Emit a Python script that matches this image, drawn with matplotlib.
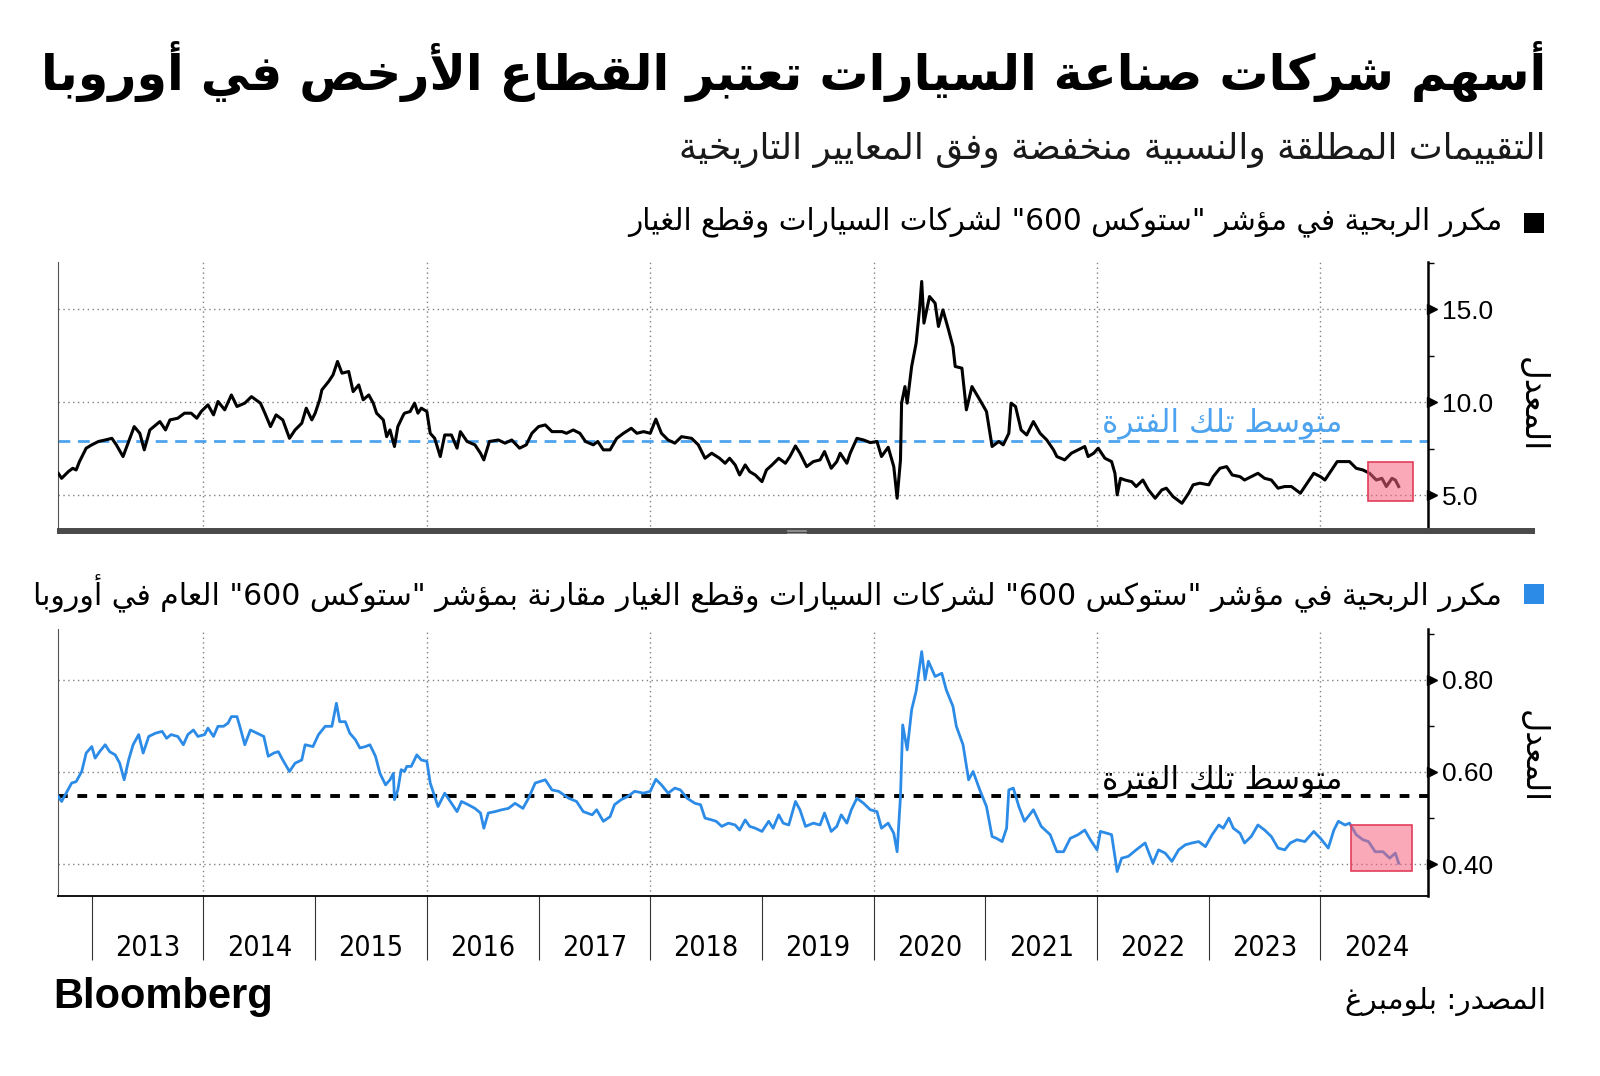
import re
import matplotlib
matplotlib.use('Agg')
import matplotlib.pyplot as plt
from matplotlib import font_manager as fm, transforms
from matplotlib.lines import Line2D
from matplotlib.patches import Rectangle

W, H = 1600, 1076

title = 'أسهم شركات صناعة السيارات تعتبر القطاع الأرخص في أوروبا'
subtitle = 'التقييمات المطلقة والنسبية منخفضة وفق المعايير التاريخية'
legend_top = 'مكرر الربحية في مؤشر "ستوكس 600" لشركات السيارات وقطع الغيار'
legend_bottom = ('مكرر الربحية في مؤشر "ستوكس 600" لشركات السيارات وقطع الغيار '
                 'مقارنة بمؤشر "ستوكس 600" العام في أوروبا')
mean_label = 'متوسط تلك الفترة'
axis_label = 'المعدل'
source = 'المصدر: بلومبرغ'
years = list(range(2013, 2025))

# price/earnings of Stoxx 600 autos (decimal year, value)
top_dates = [2012.70, 2012.73, 2012.79, 2012.83, 2012.86, 2012.89, 2012.95, 2013.00, 2013.06, 2013.12,
             2013.18, 2013.22, 2013.28, 2013.33, 2013.38, 2013.43, 2013.47, 2013.52, 2013.61, 2013.66,
             2013.70, 2013.77, 2013.83, 2013.89, 2013.94, 2013.98, 2014.04, 2014.09, 2014.13, 2014.19,
             2014.25, 2014.30, 2014.37, 2014.43, 2014.51, 2014.55, 2014.60, 2014.65, 2014.71, 2014.77,
             2014.82, 2014.88, 2014.92, 2014.97, 2015.00, 2015.04, 2015.06, 2015.12, 2015.16, 2015.20,
             2015.24, 2015.30, 2015.34, 2015.39, 2015.43, 2015.48, 2015.52, 2015.55, 2015.61, 2015.64,
             2015.67, 2015.71, 2015.74, 2015.79, 2015.80, 2015.85, 2015.89, 2015.92, 2015.95, 2016.00,
             2016.03, 2016.07, 2016.12, 2016.16, 2016.22, 2016.27, 2016.30, 2016.36, 2016.43, 2016.48,
             2016.51, 2016.56, 2016.64, 2016.70, 2016.76, 2016.83, 2016.89, 2016.94, 2017.00, 2017.06,
             2017.12, 2017.21, 2017.25, 2017.31, 2017.37, 2017.42, 2017.49, 2017.53, 2017.58, 2017.64,
             2017.70, 2017.76, 2017.83, 2017.88, 2017.94, 2018.00, 2018.05, 2018.10, 2018.16, 2018.22,
             2018.28, 2018.37, 2018.43, 2018.49, 2018.55, 2018.62, 2018.67, 2018.71, 2018.76, 2018.80,
             2018.85, 2018.89, 2018.94, 2019.00, 2019.04, 2019.09, 2019.15, 2019.21, 2019.25, 2019.30,
             2019.34, 2019.40, 2019.46, 2019.52, 2019.56, 2019.62, 2019.67, 2019.70, 2019.76, 2019.79,
             2019.85, 2019.91, 2019.97, 2020.03, 2020.07, 2020.13, 2020.18, 2020.21, 2020.24, 2020.25,
             2020.28, 2020.30, 2020.34, 2020.38, 2020.41, 2020.43, 2020.45, 2020.50, 2020.55, 2020.58,
             2020.62, 2020.67, 2020.71, 2020.73, 2020.79, 2020.83, 2020.88, 2020.95, 2021.01, 2021.06,
             2021.12, 2021.16, 2021.21, 2021.23, 2021.27, 2021.32, 2021.37, 2021.43, 2021.49, 2021.55,
             2021.61, 2021.64, 2021.71, 2021.77, 2021.89, 2021.92, 2021.97, 2022.01, 2022.07, 2022.13,
             2022.16, 2022.18, 2022.21, 2022.25, 2022.31, 2022.35, 2022.41, 2022.46, 2022.52, 2022.58,
             2022.62, 2022.68, 2022.76, 2022.82, 2022.86, 2022.92, 2023.00, 2023.04, 2023.10, 2023.16,
             2023.21, 2023.28, 2023.32, 2023.38, 2023.44, 2023.50, 2023.56, 2023.62, 2023.68, 2023.74,
             2023.82, 2023.88, 2023.94, 2024.00, 2024.04, 2024.09, 2024.15, 2024.22, 2024.26, 2024.32,
             2024.38, 2024.44, 2024.50, 2024.55, 2024.59, 2024.64, 2024.67, 2024.70]
top_pe = [6.18, 5.91, 6.27, 6.45, 6.36, 6.81, 7.53, 7.71, 7.89, 7.97,
          8.06, 7.71, 7.08, 7.89, 8.69, 8.33, 7.44, 8.51, 8.96, 8.51,
          9.05, 9.14, 9.41, 9.41, 9.14, 9.50, 9.86, 9.32, 10.04, 9.59,
          10.39, 9.77, 9.95, 10.30, 9.95, 9.41, 8.69, 9.32, 9.05, 8.06,
          8.51, 8.87, 9.68, 9.05, 9.41, 10.13, 10.66, 11.11, 11.47, 12.19,
          11.56, 11.65, 10.57, 10.93, 10.13, 10.39, 9.95, 9.41, 9.05, 8.15,
          8.51, 7.62, 8.69, 9.32, 9.41, 9.50, 9.95, 9.41, 9.68, 9.50,
          8.33, 8.06, 7.08, 8.24, 8.24, 7.53, 8.42, 7.89, 7.71, 7.26,
          6.90, 7.89, 7.97, 7.80, 7.97, 7.53, 7.71, 8.33, 8.69, 8.78,
          8.42, 8.42, 8.33, 8.51, 8.33, 7.89, 7.71, 7.89, 7.44, 7.44,
          8.06, 8.33, 8.60, 8.33, 8.42, 8.33, 9.09, 8.33, 7.97, 7.80,
          8.15, 8.06, 7.71, 6.99, 7.26, 6.99, 6.72, 6.99, 6.63, 6.09,
          6.63, 6.27, 6.09, 5.73, 6.36, 6.63, 6.99, 6.72, 7.08, 7.65,
          7.26, 6.54, 6.81, 6.90, 7.35, 6.45, 6.81, 7.26, 6.72, 7.26,
          8.06, 7.97, 7.83, 7.89, 7.08, 7.58, 6.54, 4.84, 6.90, 9.95,
          10.84, 9.95, 11.92, 13.17, 14.96, 16.49, 14.25, 15.68, 15.32, 14.07,
          14.96, 13.89, 12.99, 11.92, 11.83, 9.59, 10.84, 10.13, 9.50, 7.62,
          7.89, 7.71, 8.33, 9.95, 9.77, 8.51, 8.24, 8.96, 8.33, 7.97,
          7.44, 7.08, 6.90, 7.26, 7.62, 7.08, 7.26, 7.53, 6.99, 6.81,
          6.18, 5.02, 5.91, 5.82, 5.73, 5.47, 5.82, 5.29, 4.84, 5.29,
          5.38, 4.93, 4.57, 5.11, 5.56, 5.65, 5.56, 6.00, 6.45, 6.54,
          6.09, 6.00, 5.82, 6.00, 6.18, 5.91, 5.82, 5.38, 5.47, 5.47,
          5.11, 5.65, 6.18, 6.00, 5.82, 6.27, 6.81, 6.81, 6.81, 6.45,
          6.36, 6.18, 5.82, 5.91, 5.47, 5.91, 5.82, 5.47]

# autos P/E relative to the broad Stoxx 600
rel_dates = [2012.70, 2012.73, 2012.77, 2012.82, 2012.86, 2012.91, 2012.95, 2013.00, 2013.03, 2013.07,
             2013.12, 2013.16, 2013.21, 2013.25, 2013.29, 2013.33, 2013.37, 2013.42, 2013.46, 2013.51,
             2013.57, 2013.63, 2013.67, 2013.71, 2013.77, 2013.82, 2013.86, 2013.91, 2013.95, 2014.01,
             2014.04, 2014.09, 2014.13, 2014.18, 2014.22, 2014.25, 2014.30, 2014.33, 2014.37, 2014.42,
             2014.48, 2014.54, 2014.58, 2014.63, 2014.67, 2014.71, 2014.77, 2014.82, 2014.88, 2014.91,
             2014.98, 2015.03, 2015.09, 2015.15, 2015.19, 2015.22, 2015.27, 2015.31, 2015.36, 2015.40,
             2015.45, 2015.49, 2015.54, 2015.58, 2015.63, 2015.67, 2015.70, 2015.71, 2015.74, 2015.77,
             2015.80, 2015.82, 2015.86, 2015.91, 2015.95, 2016.00, 2016.03, 2016.07, 2016.10, 2016.16,
             2016.21, 2016.27, 2016.31, 2016.37, 2016.43, 2016.48, 2016.51, 2016.55, 2016.61, 2016.67,
             2016.73, 2016.79, 2016.86, 2016.91, 2016.97, 2017.06, 2017.12, 2017.18, 2017.27, 2017.34,
             2017.40, 2017.48, 2017.52, 2017.58, 2017.64, 2017.68, 2017.74, 2017.80, 2017.86, 2017.94,
             2018.00, 2018.05, 2018.10, 2018.16, 2018.22, 2018.27, 2018.33, 2018.40, 2018.45, 2018.49,
             2018.55, 2018.59, 2018.64, 2018.70, 2018.76, 2018.80, 2018.85, 2018.89, 2018.94, 2019.00,
             2019.06, 2019.10, 2019.15, 2019.19, 2019.24, 2019.30, 2019.34, 2019.39, 2019.46, 2019.52,
             2019.56, 2019.62, 2019.67, 2019.71, 2019.76, 2019.80, 2019.85, 2019.91, 2019.97, 2020.03,
             2020.07, 2020.13, 2020.18, 2020.21, 2020.24, 2020.26, 2020.30, 2020.34, 2020.38, 2020.43,
             2020.46, 2020.49, 2020.55, 2020.61, 2020.65, 2020.71, 2020.74, 2020.80, 2020.85, 2020.89,
             2020.95, 2021.01, 2021.06, 2021.10, 2021.15, 2021.19, 2021.21, 2021.25, 2021.30, 2021.35,
             2021.43, 2021.50, 2021.58, 2021.64, 2021.70, 2021.76, 2021.83, 2021.89, 2021.94, 2022.00,
             2022.03, 2022.09, 2022.13, 2022.18, 2022.22, 2022.28, 2022.35, 2022.43, 2022.50, 2022.55,
             2022.61, 2022.67, 2022.73, 2022.79, 2022.85, 2022.91, 2022.97, 2023.03, 2023.09, 2023.13,
             2023.18, 2023.22, 2023.28, 2023.32, 2023.38, 2023.44, 2023.50, 2023.56, 2023.62, 2023.68,
             2023.73, 2023.79, 2023.86, 2023.94, 2024.00, 2024.07, 2024.12, 2024.16, 2024.22, 2024.26,
             2024.32, 2024.38, 2024.43, 2024.49, 2024.56, 2024.62, 2024.67, 2024.70]
rel_pe = [0.547, 0.536, 0.554, 0.576, 0.579, 0.601, 0.641, 0.655, 0.630, 0.644,
          0.659, 0.644, 0.637, 0.619, 0.583, 0.626, 0.659, 0.681, 0.641, 0.677,
          0.684, 0.688, 0.673, 0.681, 0.677, 0.659, 0.681, 0.691, 0.677, 0.681,
          0.695, 0.677, 0.699, 0.699, 0.706, 0.720, 0.720, 0.695, 0.659, 0.691,
          0.684, 0.677, 0.634, 0.641, 0.644, 0.626, 0.601, 0.619, 0.626, 0.659,
          0.655, 0.681, 0.699, 0.699, 0.749, 0.709, 0.709, 0.684, 0.670, 0.652,
          0.655, 0.659, 0.634, 0.597, 0.572, 0.583, 0.597, 0.540, 0.561, 0.605,
          0.601, 0.612, 0.612, 0.637, 0.626, 0.623, 0.576, 0.547, 0.525, 0.554,
          0.536, 0.514, 0.536, 0.529, 0.521, 0.511, 0.478, 0.511, 0.514, 0.518,
          0.521, 0.532, 0.521, 0.543, 0.576, 0.583, 0.561, 0.558, 0.543, 0.536,
          0.514, 0.507, 0.518, 0.493, 0.503, 0.529, 0.540, 0.547, 0.558, 0.554,
          0.558, 0.584, 0.572, 0.554, 0.565, 0.561, 0.543, 0.532, 0.529, 0.500,
          0.496, 0.493, 0.482, 0.489, 0.485, 0.474, 0.496, 0.482, 0.478, 0.471,
          0.493, 0.478, 0.507, 0.489, 0.485, 0.536, 0.518, 0.482, 0.489, 0.485,
          0.511, 0.471, 0.482, 0.507, 0.489, 0.518, 0.543, 0.532, 0.518, 0.514,
          0.478, 0.489, 0.467, 0.427, 0.547, 0.702, 0.648, 0.735, 0.775, 0.861,
          0.800, 0.840, 0.807, 0.814, 0.778, 0.742, 0.699, 0.659, 0.583, 0.601,
          0.561, 0.525, 0.460, 0.456, 0.449, 0.478, 0.561, 0.565, 0.525, 0.493,
          0.518, 0.482, 0.464, 0.427, 0.427, 0.456, 0.464, 0.474, 0.453, 0.431,
          0.471, 0.467, 0.464, 0.384, 0.413, 0.417, 0.431, 0.446, 0.402, 0.431,
          0.424, 0.406, 0.431, 0.442, 0.446, 0.449, 0.438, 0.464, 0.485, 0.478,
          0.500, 0.478, 0.467, 0.446, 0.460, 0.485, 0.474, 0.460, 0.435, 0.431,
          0.446, 0.453, 0.449, 0.471, 0.456, 0.435, 0.474, 0.493, 0.485, 0.489,
          0.464, 0.453, 0.449, 0.427, 0.427, 0.413, 0.424, 0.402]

top_mean = 7.92
rel_mean = 0.547
top_box = (2024.43, 2024.83, 4.71, 6.81)
rel_box = (2024.27, 2024.82, 0.386, 0.485)

# --- minimal Arabic shaping (matplotlib has no complex text layout) ---
_BASE = {'آ': 0xFE81, 'أ': 0xFE83, 'ؤ': 0xFE85, 'إ': 0xFE87, 'ئ': 0xFE89, 'ا': 0xFE8D,
         'ب': 0xFE8F, 'ة': 0xFE93, 'ت': 0xFE95, 'ث': 0xFE99, 'ج': 0xFE9D, 'ح': 0xFEA1,
         'خ': 0xFEA5, 'د': 0xFEA9, 'ذ': 0xFEAB, 'ر': 0xFEAD, 'ز': 0xFEAF, 'س': 0xFEB1,
         'ش': 0xFEB5, 'ص': 0xFEB9, 'ض': 0xFEBD, 'ط': 0xFEC1, 'ظ': 0xFEC5, 'ع': 0xFEC9,
         'غ': 0xFECD, 'ف': 0xFED1, 'ق': 0xFED5, 'ك': 0xFED9, 'ل': 0xFEDD, 'م': 0xFEE1,
         'ن': 0xFEE5, 'ه': 0xFEE9, 'و': 0xFEED, 'ى': 0xFEEF, 'ي': 0xFEF1}
_RIGHT_ONLY = set('آأؤإادذرزوةى')
_LAM_ALEF = {'آ': 0xFEF5, 'أ': 0xFEF7, 'إ': 0xFEF9, 'ا': 0xFEFB}


def ar(s):
    out = []
    joined = False
    i = 0
    while i < len(s):
        c = s[i]
        nxt = s[i + 1] if i + 1 < len(s) else ''
        if c == 'ل' and nxt in _LAM_ALEF:
            out.append(chr(_LAM_ALEF[nxt] + (1 if joined else 0)))
            joined = False
            i += 2
            continue
        if c in _BASE:
            b = _BASE[c]
            dual = c not in _RIGHT_ONLY
            fwd = dual and nxt in _BASE
            if joined and fwd:
                b += 3
            elif joined:
                b += 1
            elif fwd:
                b += 2
            out.append(chr(b))
            joined = dual
        else:
            out.append(c)
            joined = False
        i += 1
    vis = ''.join(out)[::-1]
    return re.sub(r'[0-9A-Za-z.]+', lambda m: m.group(0)[::-1], vis)


# a condensed face for the year labels, if one is installed
num_font = 'Liberation Sans'
year_prop = fm.FontProperties(family='Liberation Sans', size=19)
for f in fm.fontManager.ttflist:
    if ('Narrow' in f.name or f.stretch in ('condensed', 'semi-condensed')) \
            and f.style == 'normal' and f.weight in (400, 'normal', 'regular'):
        year_prop = fm.FontProperties(fname=f.fname, size=20.5)
        break
ar_font = 'DejaVu Sans'
plt.rcParams['lines.scale_dashes'] = False

fig = plt.figure(figsize=(16, 10.76), dpi=100)
renderer = fig.canvas.get_renderer()


def fx(px):
    return px / W


def fy(py):
    return 1 - py / H


def fit_text(s, x, y, width, ha='right', vertical=False, size=20, **kw):
    t = fig.text(fx(x), fy(y), s, ha=ha, va='center', fontsize=size, **kw)
    bb = t.get_window_extent(renderer)
    cur = bb.height if vertical else bb.width
    t.set_fontsize(size * width / cur)
    return t


ax1 = fig.add_axes([fx(57.7), fy(531), (1427.7 - 57.7) / W, (531 - 261.7) / H])
ax2 = fig.add_axes([fx(57.7), fy(896), (1427.7 - 57.7) / W, (896 - 629) / H])

dot = (0, (1, 2.5))
for ax, lo, hi, major, minor, fmt in ((ax1, 3.08, 17.55, [5, 10, 15], [7.5, 12.5, 17.5], '{:.1f}'),
                                      (ax2, 0.331, 0.910, [0.4, 0.6, 0.8], [0.5, 0.7, 0.9], '{:.2f}')):
    ax.set_xlim(2012.695, 2024.96)
    ax.set_ylim(lo, hi)
    for v in major:
        ax.axhline(v, color='#808080', lw=1.0, ls=dot, zorder=1)
    for yr in range(2014, 2025, 2):
        ax.axvline(yr, color='#808080', lw=1.0, ls=dot, zorder=1)
    ax.yaxis.tick_right()
    ax.set_yticks(major)
    ax.set_yticklabels([fmt.format(v) for v in major], fontsize=19, family=num_font)
    ax.set_yticks(minor, minor=True)
    ax.tick_params(axis='y', which='major', length=0, pad=10)
    ax.tick_params(axis='y', which='minor', length=4, width=1, direction='out', color='black')
    tr = transforms.offset_copy(ax.get_yaxis_transform(), fig=fig, x=3.2, y=0, units='points')
    ax.plot([1] * len(major), major, ls='none', marker='>', ms=6.5, color='black',
            transform=tr, clip_on=False, zorder=6)
    ax.spines['top'].set_visible(False)
    ax.spines['left'].set_color('#555555')
    ax.spines['left'].set_linewidth(0.8)
    ax.spines['right'].set_linewidth(1.8)

ax1.spines['bottom'].set_visible(False)
ax1.tick_params(axis='x', which='both', length=0, labelbottom=False)

ax1.plot(top_dates, top_pe, color='black', lw=2.2, solid_joinstyle='round', zorder=3)
ax1.axhline(top_mean, color='#4da3ee', lw=2.0, dashes=(8.5, 5.5), zorder=2)
ax1.add_patch(Rectangle((top_box[0], top_box[2]), top_box[1] - top_box[0], top_box[3] - top_box[2],
                        facecolor=(0.96, 0.39, 0.49, 0.55), edgecolor='#e23d5a', lw=1.2, zorder=4))

ax2.plot(rel_dates, rel_pe, color='#2b8be6', lw=2.0, solid_joinstyle='round', zorder=3)
ax2.axhline(rel_mean, color='black', lw=2.8, dashes=(7, 7), zorder=2)
ax2.add_patch(Rectangle((rel_box[0], rel_box[2]), rel_box[1] - rel_box[0], rel_box[3] - rel_box[2],
                        facecolor=(0.96, 0.39, 0.49, 0.55), edgecolor='#e23d5a', lw=1.2, zorder=4))

ax2.spines['bottom'].set_linewidth(1.3)
ax2.set_xticks(years)
ax2.set_xticklabels([''] * len(years))
ax2.set_xticks([y + 0.5 for y in years], minor=True)
ax2.set_xticklabels([str(y) for y in years], minor=True, fontproperties=year_prop)
ax2.tick_params(axis='x', which='major', length=46, width=0.8, color='#333333', direction='out')
ax2.tick_params(axis='x', which='minor', length=0, pad=27)

# separator bar between the panels
fig.add_artist(Line2D([fx(57), fx(1535)], [fy(531)] * 2, lw=4.3, color='#4a4a4a',
                      transform=fig.transFigure, solid_capstyle='butt'))
for yy in (529.5, 531, 532.5):
    fig.add_artist(Line2D([fx(787), fx(806)], [fy(yy)] * 2, lw=0.5, color='#aaaaaa',
                          transform=fig.transFigure))

# texts
fit_text(ar(title), 1546, 71, 1503, family=ar_font, weight='bold', color='black')
fit_text(ar(subtitle), 1546, 150, 870, family=ar_font, color='#1a1a1a')
fit_text(ar(legend_top), 1502, 222, 875, family=ar_font, color='black')
fit_text(ar(legend_bottom), 1502, 594, 1466, family=ar_font, color='black')
fig.add_artist(Rectangle((fx(1524), fy(233)), 20 / W, 20 / H, transform=fig.transFigure,
                         facecolor='black', edgecolor='none'))
fig.add_artist(Rectangle((fx(1524), fy(604)), 20 / W, 20 / H, transform=fig.transFigure,
                         facecolor='#2b8be6', edgecolor='none'))
fit_text(ar(mean_label), 1102, 423, 240, ha='left', family=ar_font, color='#4da3ee')
fit_text(ar(mean_label), 1102, 780, 240, ha='left', family=ar_font, color='black')
fit_text(ar(axis_label), 1532, 405, 95, ha='center', vertical=True, rotation=270,
         family=ar_font, color='black')
fit_text(ar(axis_label), 1532, 757, 93, ha='center', vertical=True, rotation=270,
         family=ar_font, color='black')
fit_text(ar(source), 1546, 1002, 201, family=ar_font, color='black')
fit_text('Bloomberg', 53, 997, 219, ha='left', family='Liberation Sans', weight='bold', color='black')

fig.savefig('out.png', dpi=100)
